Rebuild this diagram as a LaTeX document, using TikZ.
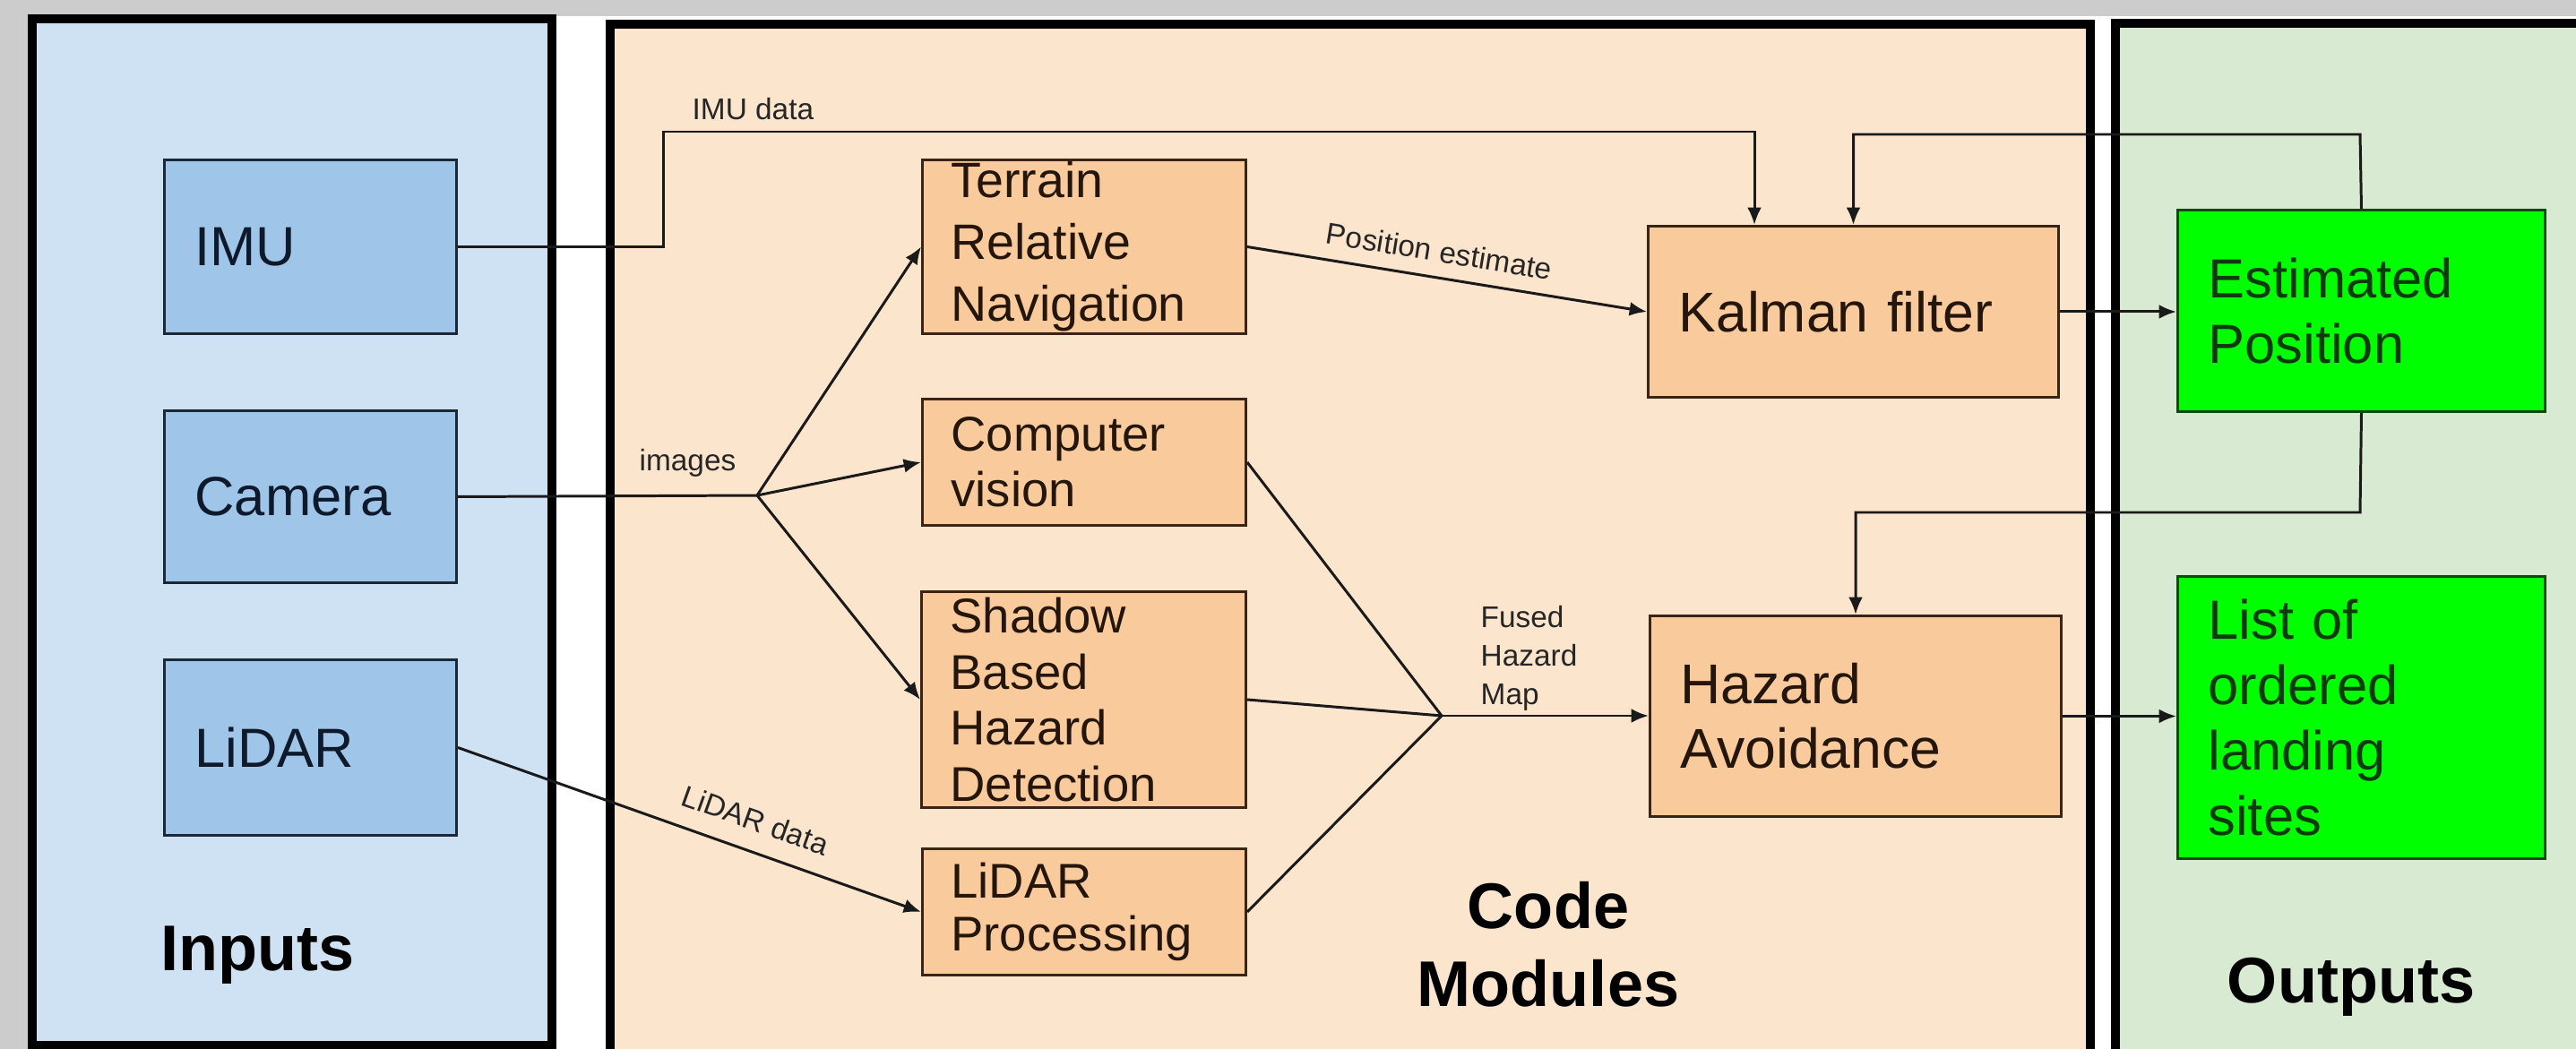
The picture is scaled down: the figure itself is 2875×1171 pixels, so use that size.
\documentclass[tikz,border=0pt]{standalone}
\usepackage{fontspec}
\setmainfont{Liberation Sans}
\usetikzlibrary{arrows.meta,calc}
\definecolor{cBg}{HTML}{CCCCCC}
\definecolor{cInPanel}{HTML}{CFE2F3}
\definecolor{cInBox}{HTML}{9FC5E8}
\definecolor{cInDraw}{HTML}{1B2838}
\definecolor{cInText}{HTML}{0E1A2B}
\definecolor{cCodePanel}{HTML}{FCE5CD}
\definecolor{cCodeBox}{HTML}{F9CB9C}
\definecolor{cCodeDraw}{HTML}{3A2416}
\definecolor{cCodeText}{HTML}{24160C}
\definecolor{cOutPanel}{HTML}{D9EAD3}
\definecolor{cOutBox}{HTML}{00FF00}
\definecolor{cOutDraw}{HTML}{0E4A0E}
\definecolor{cOutText}{HTML}{0B3A0B}
\definecolor{cLine}{HTML}{1A1A1A}
\begin{document}
\begin{tikzpicture}[x=0.1mm,y=-0.1mm,
  panel/.style={line width=2.6pt, draw=black},
  conn/.style={line width=0.85pt, draw=cLine},
  arr/.style={conn, -{Latex[length=5.5pt,width=4.5pt]}},
  box/.style={draw, line width=0.85pt, inner sep=0pt, anchor=north west, align=left},
  inbox/.style={box, fill=cInBox, draw=cInDraw, text=cInText, font=\fontsize{17.5}{21}\selectfont},
  codebox/.style={box, fill=cCodeBox, draw=cCodeDraw, text=cCodeText},
  outbox/.style={box, fill=cOutBox, draw=cOutDraw, text=cOutText, font=\fontsize{17.5}{20.7}\selectfont},
  lbl/.style={font=\fontsize{9.5}{11.4}\selectfont, text=black!85, inner sep=0pt},
  ttl/.style={font=\bfseries\fontsize{20.5}{24.7}\selectfont, text=black, inner sep=0pt}]
\useasboundingbox (0,0) rectangle (2875,1171);
\fill[cBg] (0,0) rectangle (2875,1171);
\fill[white] (32,18) rectangle (2875,1171);
% panels
\draw[panel, fill=cInPanel] (36,21) rectangle (616,1167);
\draw[panel, fill=cCodePanel] (681,27) rectangle (2333,1190);
\draw[panel, fill=cOutPanel] (2361,26) rectangle (2900,1190);
% input boxes
\node[inbox, minimum width=32.6mm, minimum height=19.4mm, text width=25.8mm] (imu) at (182,177) {IMU};
\node[inbox, minimum width=32.6mm, minimum height=19.2mm, text width=25.8mm] (cam) at (182,457) {Camera};
\node[inbox, minimum width=32.6mm, minimum height=19.6mm, text width=25.8mm] (lid) at (182,735) {LiDAR};
% code boxes
\node[codebox, font=\fontsize{15.8}{19.6}\selectfont, minimum width=36.1mm, minimum height=19.4mm, text width=29.7mm] (ter) at (1028,177) {Terrain\\Relative\\Navigation};
\node[codebox, font=\fontsize{15.5}{17.6}\selectfont, minimum width=36.1mm, minimum height=14.1mm, text width=29.7mm] (cv) at (1028,444) {Computer\\vision};
\node[codebox, font=\fontsize{15.5}{17.8}\selectfont, minimum width=36.2mm, minimum height=24.1mm, text width=29.8mm] (sha) at (1027,659) {Shadow\\Based\\Hazard\\Detection};
\node[codebox, font=\fontsize{15.5}{17}\selectfont, minimum width=36.1mm, minimum height=14.1mm, text width=29.7mm] (lpr) at (1028,946) {LiDAR\\Processing};
\node[codebox, font=\fontsize{17.8}{20.5}\selectfont, minimum width=45.8mm, minimum height=19.1mm, text width=39.0mm] (kal) at (1838,251) {Kalman filter};
\node[codebox, font=\fontsize{17.8}{20.5}\selectfont, minimum width=45.9mm, minimum height=22.4mm, text width=39.1mm] (haz) at (1840,686) {Hazard\\Avoidance};
% output boxes
\node[outbox, minimum width=41.0mm, minimum height=22.5mm, text width=34.2mm] (est) at (2429,233) {Estimated\\Position};
\node[outbox, minimum width=41.0mm, minimum height=31.5mm, text width=34.2mm] (lst) at (2429,642) {List of\\ordered\\landing\\sites};
% titles
\node[ttl, anchor=base west] (tin) at (179,1083) {Inputs};
\node[ttl, anchor=south, align=center] (tcode) at (1728,1125) {Code\\Modules};
\node[ttl, anchor=base] (tout) at (2624,1119) {Outputs};
% junctions and bends
\coordinate (imuturn) at (740,147);
\coordinate (J1) at (845,553);
\coordinate (J2) at (1609,799);
\coordinate (fbtop) at (2634,150);
\coordinate (fbmid) at (2634,572);
% connectors
\draw[arr] (imu.east) -| (imuturn) -| ($(kal.north west)+(120,0)$);
\node[lbl, anchor=base west] (imudata) at (772,134) {IMU data};
\draw[conn] (cam.east) -- (J1);
\node[lbl, anchor=base west] (images) at (713,525) {images};
\draw[arr] (J1) -- (ter.west);
\draw[arr] (J1) -- (cv.west);
\draw[arr] (J1) -- (sha.west);
\draw[arr] (lid.east) -- node[lbl, sloped, above=6pt, pos=0.62] (lidardata) {LiDAR data} (lpr.west);
\draw[arr] (ter.east) -- node[lbl, sloped, above=4.5pt, pos=0.47] (posest) {Position estimate} (kal.west);
\draw[conn] (cv.east) -- (J2);
\draw[conn] (sha.east) -- (J2);
\draw[conn] (lpr.east) -- (J2);
\draw[arr] (J2) -- (J2 -| haz.west);
\node[lbl, align=left, anchor=south west, font=\fontsize{9.5}{12.2}\selectfont] (fhm) at (1652,794) {Fused\\Hazard\\Map};
\draw[arr] (kal.east) -- (kal.east -| est.west);
\draw[arr] (est.north) -- (fbtop) -| (kal.north);
\draw[arr] (est.south) -- (fbmid) -| (haz.north);
\draw[arr] (haz.east) -- (haz.east -| lst.west);
\end{tikzpicture}
\end{document}
